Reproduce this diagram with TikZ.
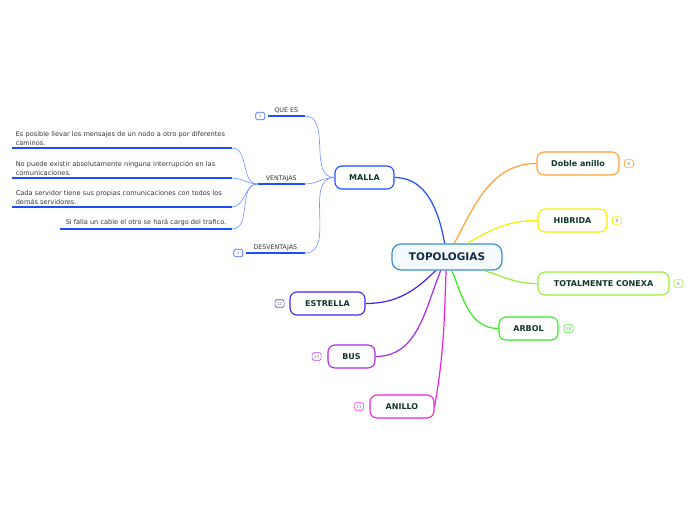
\documentclass[tikz,border=0pt]{standalone}
\usepackage{fontspec}
\setmainfont{DejaVu Sans}
\usetikzlibrary{positioning}
\definecolor{rootblue}{RGB}{58,142,214}
\definecolor{rootfill}{RGB}{245,250,254}
\definecolor{mallablue}{RGB}{28,78,255}
\definecolor{twigblue}{RGB}{112,144,255}
\definecolor{dobleor}{RGB}{255,160,50}
\definecolor{hibyel}{RGB}{240,240,0}
\definecolor{totgreen}{RGB}{150,238,50}
\definecolor{arbgreen}{RGB}{50,236,30}
\definecolor{estblue}{RGB}{70,34,238}
\definecolor{buspurp}{RGB}{170,40,238}
\definecolor{anillomag}{RGB}{238,34,220}
\definecolor{nodetext}{RGB}{16,56,40}
\definecolor{subtext}{RGB}{51,51,51}
\tikzset{
  rootbox/.style={draw=rootblue, fill=rootfill, line width=1.2pt, rounded corners=9pt,
    minimum width=110pt, minimum height=26pt, text=rootblue!30!black,
    font=\fontsize{10.5}{12}\selectfont\bfseries},
  topic/.style={draw=#1, fill=white, line width=1.1pt, rounded corners=7pt,
    minimum height=23pt, inner xsep=2pt, text=nodetext,
    font=\fontsize{8}{9}\selectfont\bfseries},
  badge/.style={draw=#1!85, line width=0.7pt, rounded corners=1.5pt, minimum width=9pt,
    minimum height=7.5pt, inner sep=0pt, text=gray, font=\fontsize{4.2}{4.2}\selectfont},
  branch/.style={draw=#1, line width=1.2pt},
  label/.style={inner xsep=0pt, inner ysep=2pt, text=subtext, font=\fontsize{6.3}{7}\selectfont},
  note/.style={inner xsep=4pt, inner ysep=2.5pt, text=subtext, align=left,
    font=\fontsize{6.6}{8.6}\selectfont},
  underline/.style={draw=mallablue, line width=1.6pt},
  twig/.style={draw=twigblue, line width=0.6pt},
}
\begin{document}
\begin{tikzpicture}[x=1pt, y=1pt]
\useasboundingbox (0,0) rectangle (696,-520);
% central topic
\node[rootbox] (topo) at (447,-257) {TOPOLOGIAS};
% main topics
\node[topic=mallablue, minimum width=59pt] (malla) at (364.5,-177.5) {MALLA};
\node[topic=dobleor, minimum width=82pt] (doble) at (578,-163.5) {Doble anillo};
\node[topic=hibyel, minimum width=69pt] (hib) at (572.5,-220.5) {HIBRIDA};
\node[topic=totgreen, minimum width=131pt] (tot) at (603.5,-283.5) {TOTALMENTE CONEXA};
\node[topic=arbgreen, minimum width=59pt] (arbol) at (528.5,-328.5) {ARBOL};
\node[topic=estblue, minimum width=75pt] (estrella) at (327.5,-303.5) {ESTRELLA};
\node[topic=buspurp, minimum width=47pt] (bus) at (351.5,-356.5) {BUS};
\node[topic=anillomag, minimum width=64pt] (anillo) at (402,-406.5) {ANILLO};
% counters
\node[badge=dobleor, right=4.5pt of doble] (doble-n) {9};
\node[badge=hibyel, right=4.5pt of hib] (hib-n) {9};
\node[badge=totgreen, right=4pt of tot] (tot-n) {8};
\node[badge=arbgreen, right=5pt of arbol] (arbol-n) {13};
\node[badge=estblue, left=5pt of estrella] (estrella-n) {12};
\node[badge=buspurp, left=6pt of bus] (bus-n) {13};
\node[badge=anillomag, left=5.5pt of anillo] (anillo-n) {11};
% branches
\draw[branch=mallablue] (topo.100) to[out=100,in=0] (malla.east);
\draw[branch=dobleor] (topo.62) to[out=62,in=180] (doble.west);
\draw[branch=hibyel] (topo.34) to[out=30,in=180] (hib.west);
\draw[branch=totgreen] (topo.-20) to[out=-18,in=180] (tot.west);
\draw[branch=arbgreen] (topo.-70) to[out=-68,in=180] (arbol.west);
\draw[branch=estblue] (topo.-130) to[out=-135,in=0] (estrella.east);
\draw[branch=buspurp] (topo.-115) to[out=-112,in=0] (bus.east);
\draw[branch=anillomag] (topo.-94) to[out=-92,in=80] (anillo.east);
% malla subtopics
\node[label, minimum width=37pt, anchor=south east] (quees) at (305,-116) {QUE ES};
\node[label, minimum width=47pt, anchor=south east] (vent) at (305,-184) {VENTAJAS};
\node[label, minimum width=59pt, anchor=south east] (desv) at (305,-253) {DESVENTAJAS};
\node[badge=mallablue, left=2.5pt of quees.south west] (quees-n) {1};
\node[badge=mallablue, left=2.5pt of desv.south west] (desv-n) {1};
\foreach \s in {quees, vent, desv} {
  \draw[underline] (\s.south west) -- (\s.south east);
  \draw[twig] (\s.south east) to[out=0,in=180] (malla.west);
}
% ventajas notes
\node[note, text width=212pt, anchor=south east] (v1) at (232,-148)
  {Es posible llevar los mensajes de un nodo a otro por diferentes\\caminos.};
\node[note, text width=212pt, anchor=south east] (v2) at (232,-178)
  {No puede existir absolutamente ninguna interrupción en las\\comunicaciones.};
\node[note, text width=212pt, anchor=south east] (v3) at (232,-207)
  {Cada servidor tiene sus propias comunicaciones con todos los\\demás servidores.};
\node[note, inner xsep=5.5pt, anchor=south east] (v4) at (232,-229)
  {Si falla un cable el otro se hará cargo del trafico.};
\foreach \s in {v1, v2, v3, v4} {
  \draw[underline] (\s.south west) -- (\s.south east);
  \draw[twig] (\s.south east) to[out=0,in=180] (vent.south west);
}
\end{tikzpicture}
\end{document}
